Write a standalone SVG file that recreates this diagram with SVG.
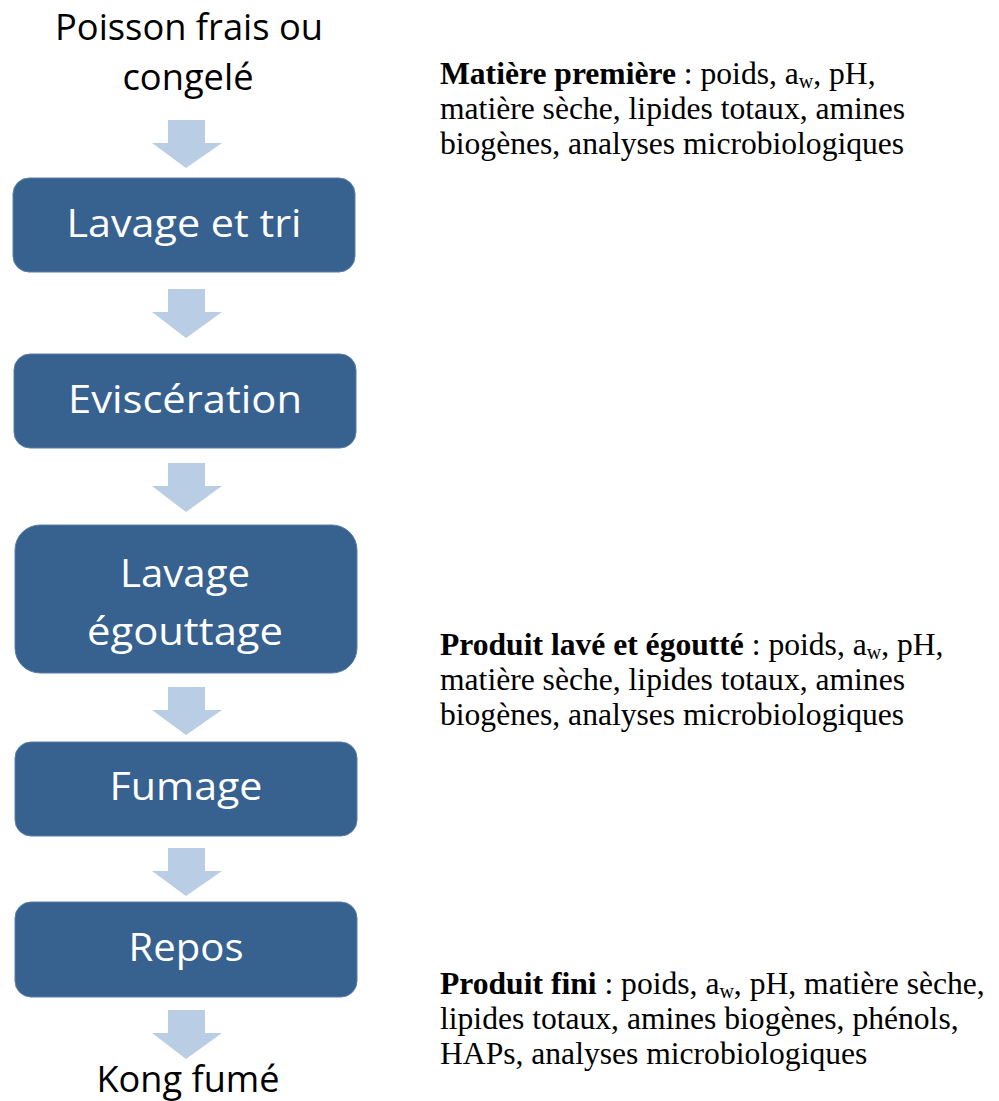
<svg xmlns="http://www.w3.org/2000/svg" width="999" height="1101" viewBox="0 0 999 1101">
<style>
.box{fill:#37618F;stroke:#5A7FA8;stroke-width:1}
.arr{fill:#B9CDE5}
.bt{font-family:"Open Sans","Noto Sans",sans-serif;font-size:39px;fill:#FFFFFF;text-anchor:middle}
.ot{font-family:"Open Sans","Noto Sans",sans-serif;font-size:36px;fill:#000000;text-anchor:middle}
.rt{font-family:"Liberation Serif","Times New Roman",serif;font-size:31.6px;fill:#000000}
.b{font-weight:bold}
.sub{font-size:20px}
</style>
<rect width="999" height="1101" fill="#FFFFFF"/>
<g id="connectors">
<path class="arr" d="M168,120 H205 V143 H222 L186,168 L152,143 H168 Z"/>
<path class="arr" d="M168,289 H205 V312 H222 L186,338 L152,312 H168 Z"/>
<path class="arr" d="M168,463 H205 V486 H222 L186,512 L152,486 H168 Z"/>
<path class="arr" d="M168,687 H205 V710 H222 L186,735 L152,710 H168 Z"/>
<path class="arr" d="M168,848 H205 V871 H222 L186,896 L152,871 H168 Z"/>
<path class="arr" d="M168,1010 H205 V1033 H222 L186,1059 L152,1033 H168 Z"/>
</g>
<g id="start">
<text class="ot" x="189" y="40" textLength="268" lengthAdjust="spacingAndGlyphs">Poisson frais ou</text>
<text class="ot" x="188" y="90" textLength="131" lengthAdjust="spacingAndGlyphs">congelé</text>
</g>
<g id="lavage-tri">
<rect class="box" x="13" y="178" width="342" height="94" rx="16"/>
<text class="bt" x="184" y="237" textLength="235" lengthAdjust="spacingAndGlyphs">Lavage et tri</text>
</g>
<g id="evisceration">
<rect class="box" x="14" y="354" width="342" height="94" rx="16"/>
<text class="bt" x="185" y="413" textLength="234" lengthAdjust="spacingAndGlyphs">Eviscération</text>
</g>
<g id="lavage-egouttage">
<rect class="box" x="15" y="525" width="342" height="148" rx="25"/>
<text class="bt" x="185" y="587" textLength="130" lengthAdjust="spacingAndGlyphs">Lavage</text>
<text class="bt" x="185" y="645" textLength="196" lengthAdjust="spacingAndGlyphs">égouttage</text>
</g>
<g id="fumage">
<rect class="box" x="15" y="742" width="342" height="94" rx="16"/>
<text class="bt" x="186" y="800" textLength="153" lengthAdjust="spacingAndGlyphs">Fumage</text>
</g>
<g id="repos">
<rect class="box" x="15" y="902" width="342" height="95" rx="16"/>
<text class="bt" x="186" y="961" textLength="115" lengthAdjust="spacingAndGlyphs">Repos</text>
</g>
<g id="end">
<text class="ot" x="188" y="1092" textLength="183" lengthAdjust="spacingAndGlyphs">Kong fumé</text>
</g>
<g id="note-matiere">
<text class="rt" x="440" y="84"><tspan class="b">Matière première</tspan> : poids, a<tspan class="sub" dy="4">w</tspan><tspan dy="-4">, pH,</tspan></text>
<text class="rt" x="440" y="119">matière sèche, lipides totaux, amines</text>
<text class="rt" x="440" y="154">biogènes, analyses microbiologiques</text>
</g>
<g id="note-lave">
<text class="rt" x="440" y="655"><tspan class="b">Produit lavé et égoutté</tspan> : poids, a<tspan class="sub" dy="4">w</tspan><tspan dy="-4">, pH,</tspan></text>
<text class="rt" x="440" y="690">matière sèche, lipides totaux, amines</text>
<text class="rt" x="440" y="725">biogènes, analyses microbiologiques</text>
</g>
<g id="note-fini">
<text class="rt" x="440" y="994"><tspan class="b">Produit fini</tspan> : poids, a<tspan class="sub" dy="4">w</tspan><tspan dy="-4">, pH, matière sèche,</tspan></text>
<text class="rt" x="440" y="1029">lipides totaux, amines biogènes, phénols,</text>
<text class="rt" x="440" y="1064">HAPs, analyses microbiologiques</text>
</g>
</svg>
